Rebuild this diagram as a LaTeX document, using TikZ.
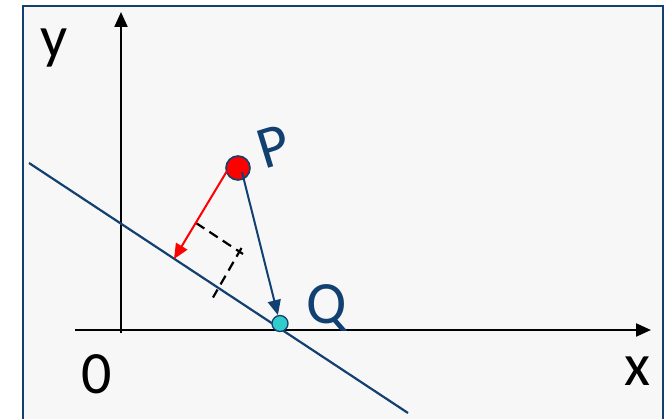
\documentclass[tikz,border=0pt]{standalone}
\usepackage{fontspec}
\setmainfont{Carlito}
\usetikzlibrary{arrows.meta}
\definecolor{navy}{RGB}{18,64,112}
\definecolor{bgc}{RGB}{247,247,247}
\definecolor{qfill}{RGB}{51,204,204}
\begin{document}
\begin{tikzpicture}[x=1pt,y=-1pt,
  axis/.style={line width=2.2pt,-{Triangle[length=15pt,width=13pt]}},
  lbl/.style={inner sep=0pt,font=\fontsize{60}{60}\selectfont},
  mainline/.style={navy,line width=2.2pt},
  vecred/.style={red,line width=2pt,-{Triangle[length=15pt,width=13pt]}},
  vecblue/.style={navy,line width=2pt,-{Triangle[length=15pt,width=13pt]}},
  marker/.style={black,line width=2.2pt,dash pattern=on 10pt off 6pt}]
\useasboundingbox (0,0) rectangle (668,419);
\fill[white] (0,0) rectangle (668,419);
\fill[bgc] (23,6) rectangle (663,425);
\draw[navy,line width=2pt] (23,425) -- (23,6) -- (663,6) -- (663,425);
% axes
\coordinate (ybot) at (121,333);
\coordinate (ytop) at (121,12);
\coordinate (xl) at (75,330);
\coordinate (xr) at (651,330);
\draw[axis] (ybot) -- (ytop);
\draw[axis] (xl) -- (xr);
% main line
\coordinate (L1) at (29,163);
\coordinate (L2) at (408,413);
\draw[mainline] (L1) -- (L2);
% right angle mark
\coordinate (m1a) at (196,223);
\coordinate (m1b) at (243,254);
\coordinate (m2a) at (241.5,248);
\coordinate (m2b) at (213,297.5);
\draw[marker] (m1a) -- (m1b);
\draw[marker] (m2a) -- (m2b);
% points
\node[circle,draw=navy,fill=red,line width=1.6pt,minimum size=24pt,inner sep=0pt] (P) at (238,168) {};
\node[circle,draw=navy,fill=qfill,line width=1.3pt,minimum size=16pt,inner sep=0pt] (Q) at (280,323.5) {};
\coordinate (Pr) at (227,171);
\coordinate (F) at (174,259);
\coordinate (Pb) at (242,172);
\draw[vecred] (Pr) -- (F);
\draw[vecblue] (Pb) -- (Q);
% labels
\node[lbl,anchor=base west] (ylab) at (40,58) {y};
\node[lbl,anchor=base] (zero) at (97,393) {0};
\node[lbl,anchor=base] (xlab) at (637,385) {x};
\node[lbl,navy,anchor=base west] (Qlab) at (306,323) {Q};
\node[lbl,navy,rotate=17] (Plab) at (274,147) {P};
\end{tikzpicture}
\end{document}
